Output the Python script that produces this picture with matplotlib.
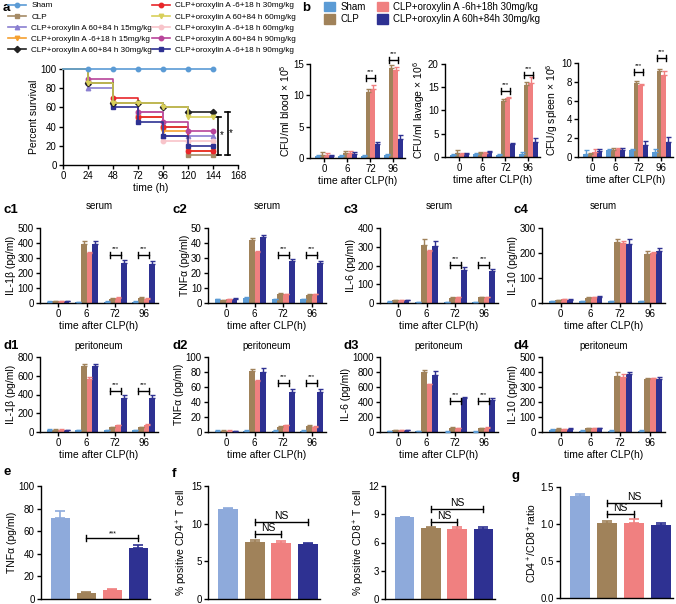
import matplotlib
matplotlib.use('Agg')
import matplotlib.pyplot as plt
from matplotlib.lines import Line2D
from matplotlib.patches import Patch
import numpy as np

plt.rcParams['font.family'] = ['Liberation Sans', 'DejaVu Sans']
plt.rcParams['mathtext.fontset'] = 'custom'
plt.rcParams['mathtext.rm'] = 'Liberation Sans'
plt.rcParams['mathtext.it'] = 'Liberation Sans:italic'
plt.rcParams['mathtext.bf'] = 'Liberation Sans:bold'

# ---------------- data ----------------
surv_times = [0, 24, 48, 72, 96, 120, 144]
surv_labels = ['Sham', 'CLP', 'CLP+oroxylin A 60+84 h 15mg/kg', 'CLP+oroxylin A -6+18 h 15mg/kg',
               'CLP+oroxylin A 60+84 h 30mg/kg', 'CLP+oroxylin A -6+18 h 30mg/kg',
               'CLP+oroxylin A 60+84 h 60mg/kg', 'CLP+oroxylin A -6+18 h 60mg/kg',
               'CLP+oroxylin A 60+84 h 90mg/kg', 'CLP+oroxylin A -6+18 h 90mg/kg']
surv_sham = [100, 100, 100, 100, 100, 100, 100]
surv_clp = [100, 85, 65, 50, 40, 10, 10]
surv_post15 = [100, 80, 65, 55, 30, 30, 30]
surv_pre15 = [100, 85, 65, 50, 35, 15, 15]
surv_post30 = [100, 85, 65, 65, 60, 55, 55]
surv_pre30 = [100, 85, 70, 50, 40, 15, 15]
surv_post60 = [100, 85, 65, 65, 60, 50, 50]
surv_pre60 = [100, 85, 65, 55, 25, 25, 25]
surv_post90 = [100, 90, 65, 55, 45, 35, 35]
surv_pre90 = [100, 85, 60, 45, 30, 20, 20]
surv_series = [surv_sham, surv_clp, surv_post15, surv_pre15, surv_post30,
               surv_pre30, surv_post60, surv_pre60, surv_post90, surv_pre90]
surv_colors = ['#5B9BD5', '#A68B66', '#8A7FD1', '#F5A030', '#222222',
               '#E8262A', '#D8CF5A', '#F8C4CA', '#B8449A', '#2E3192']
surv_markers = ['o', 's', '^', 'v', 'D', 'o', 'v', 'o', 'o', 's']

groups = ['0', '6', '72', '96']
bar_labels = ['Sham', 'CLP', 'CLP+oroxylin A -6h+18h 30mg/kg', 'CLP+oroxylin A 60h+84h 30mg/kg']
bar_colors = ['#5B9BD5', '#A0825A', '#F08080', '#2E3192']

# b panels: [sham, clp, pre, post] per time group
b1_vals = [[0.3, 0.3, 0.3, 0.4], [0.5, 0.8, 10.5, 14.3], [0.5, 0.8, 11.0, 14.0], [0.3, 0.6, 2.3, 3.0]]
b1_errs = [[0.2, 0.2, 0.2, 0.3], [0.4, 0.3, 0.5, 0.5], [0.3, 0.3, 0.6, 0.5], [0.2, 0.3, 0.3, 0.6]]
b2_vals = [[0.5, 0.6, 0.5, 0.7], [0.8, 0.8, 12.0, 15.5], [0.7, 0.8, 12.7, 16.0], [0.6, 1.0, 2.8, 3.3]]
b2_errs = [[0.2, 0.2, 0.2, 0.3], [0.8, 0.3, 0.5, 0.7], [0.2, 0.2, 0.3, 1.3], [0.2, 0.3, 0.3, 0.8]]
b3_vals = [[0.3, 0.7, 0.7, 0.5], [0.3, 0.7, 7.9, 9.1], [0.5, 0.8, 7.7, 8.7], [0.6, 0.7, 1.3, 1.6]]
b3_errs = [[0.4, 0.1, 0.1, 0.3], [0.1, 0.3, 0.2, 0.3], [0.3, 0.2, 0.1, 0.5], [0.3, 0.3, 0.4, 0.5]]

c1_vals = [[10, 5, 10, 10], [12, 390, 30, 35], [12, 330, 35, 30], [12, 390, 265, 260]]
c1_errs = [[2, 2, 2, 2], [3, 25, 5, 6], [2, 8, 5, 5], [2, 25, 25, 20]]
c2_vals = [[2.5, 3.5, 2.5, 2.5], [2, 42, 6, 5.5], [2.5, 34, 6, 6], [3, 44, 28, 27]]
c2_errs = [[0.3, 0.3, 0.3, 0.3], [0.3, 1.5, 0.4, 0.5], [0.2, 0.8, 0.3, 0.3], [0.3, 1.3, 1.3, 0.8]]
c3_vals = [[8, 5, 5, 5], [14, 310, 28, 30], [15, 275, 30, 30], [14, 305, 175, 170]]
c3_errs = [[1, 1, 1, 1], [2, 30, 2, 2], [2, 10, 3, 2], [2, 28, 15, 10]]
c4_vals = [[8, 8, 8, 8], [12, 22, 245, 197], [15, 25, 240, 198], [14, 25, 237, 208]]
c4_errs = [[1, 1, 1, 1], [1, 2, 12, 10], [1, 1, 8, 6], [1, 2, 18, 12]]

d1_vals = [[25, 20, 20, 20], [25, 700, 50, 50], [25, 570, 70, 75], [20, 700, 365, 365]]
d1_errs = [[3, 3, 3, 3], [3, 30, 5, 5], [3, 15, 8, 8], [3, 30, 30, 25]]
d2_vals = [[2, 2, 2, 2], [2, 81, 7, 8], [2, 68, 9, 7], [1.5, 80, 54, 53]]
d2_errs = [[0.3, 0.3, 0.3, 0.3], [0.3, 3, 1, 2], [0.2, 2, 1, 0.5], [0.2, 5, 4, 4]]
d3_vals = [[15, 10, 5, 5], [25, 800, 60, 50], [25, 640, 55, 60], [25, 760, 455, 425]]
d3_errs = [[2, 2, 2, 2], [3, 25, 5, 5], [2, 5, 5, 5], [3, 50, 15, 30]]
d4_vals = [[15, 10, 10, 10], [22, 25, 375, 355], [20, 25, 370, 358], [22, 27, 385, 355]]
d4_errs = [[2, 2, 2, 2], [2, 2, 25, 5], [2, 2, 15, 5], [2, 2, 15, 10]]

efg_colors = ['#8EAADB', '#A0825A', '#F08080', '#2E3192']
e_vals = [72, 5.5, 8, 45]
e_errs = [5.5, 0.5, 0.5, 3]
f1_vals = [12, 7.6, 7.45, 7.3]
f1_errs = [0.1, 0.2, 0.3, 0.1]
f2_vals = [8.7, 7.5, 7.4, 7.45]
f2_errs = [0.05, 0.1, 0.25, 0.15]
g_vals = [1.38, 1.01, 1.01, 0.98]
g_errs = [0.02, 0.03, 0.06, 0.04]

# ---------------- figure ----------------
W, H = 676, 604
fig = plt.figure(figsize=(W / 100, H / 100), dpi=100)

TICK = 7
LAB = 7.5


def ax_px(x0, y0, x1, y1):
    return fig.add_axes([x0 / W, 1 - y1 / H, (x1 - x0) / W, (y1 - y0) / H])


def style(ax):
    for s in ['top', 'right']:
        ax.spines[s].set_visible(False)
    for s in ['left', 'bottom']:
        ax.spines[s].set_linewidth(1.0)
    ax.tick_params(labelsize=TICK, length=3, width=1.0, pad=1.5)


def plabel(x, y, t):
    fig.text(x / W, 1 - y / H, t, fontsize=9.5, fontweight='bold', ha='left', va='center')


# ---- panel a ----
axa = ax_px(63, 69, 238, 165)
style(axa)
handles = []
order = [1, 2, 3, 5, 7, 8, 9, 4, 6, 0]
for i in order:
    axa.plot(surv_times, surv_series[i], drawstyle='steps-post', color=surv_colors[i],
             lw=1.2, marker=surv_markers[i], ms=3.2, markevery=list(range(1, 7)),
             clip_on=False, zorder=3)
for i in range(10):
    handles.append(Line2D([0], [0], color=surv_colors[i], lw=1.2, marker=surv_markers[i], ms=3.2))
axa.set_xlim(0, 168)
axa.set_ylim(0, 100)
axa.set_xticks(range(0, 169, 24))
axa.set_yticks(range(0, 101, 20))
axa.set_xlabel('time (h)', fontsize=LAB, labelpad=1)
axa.set_ylabel('Percent survival', fontsize=LAB, labelpad=1)
for (xt, y0, y1, xs) in [(149, 10, 50, 152.5), (158, 10, 55, 161.5)]:
    axa.plot([xt, xt], [y0, y1], color='k', lw=1.2, clip_on=False)
    axa.plot([xt - 2.5, xt + 2.5], [y0, y0], color='k', lw=1.2, clip_on=False)
    axa.plot([xt - 2.5, xt + 2.5], [y1, y1], color='k', lw=1.2, clip_on=False)
    axa.text(xs, (y0 + y1) / 2 + 1, '*', fontsize=7, ha='center', va='center')

leg_kw = dict(loc='upper left', frameon=False, fontsize=5.9, handlelength=2.3, handletextpad=0.6,
              labelspacing=0.42, borderaxespad=0, borderpad=0.2)
fig.legend([handles[k] for k in [0, 1, 2, 3, 4]], [surv_labels[k] for k in [0, 1, 2, 3, 4]],
           bbox_to_anchor=(6 / W, 1 - 0 / H), **leg_kw)
fig.legend([handles[k] for k in [5, 6, 7, 8, 9]], [surv_labels[k] for k in [5, 6, 7, 8, 9]],
           bbox_to_anchor=(150 / W, 1 - 0 / H), **leg_kw)
plabel(3, 8, 'a')

# ---- legend b ----
patches = [Patch(color=c) for c in bar_colors]
fig.legend(patches[:2], bar_labels[:2], loc='upper left', bbox_to_anchor=(322 / W, 1 - 0 / H),
           frameon=False, fontsize=7, handlelength=1.1, handleheight=1.1, handletextpad=0.6,
           labelspacing=0.25, borderaxespad=0, borderpad=0.2)
fig.legend(patches[2:], bar_labels[2:], loc='upper left', bbox_to_anchor=(375 / W, 1 - 0 / H),
           frameon=False, fontsize=7, handlelength=1.1, handleheight=1.1, handletextpad=0.6,
           labelspacing=0.25, borderaxespad=0, borderpad=0.2)
plabel(302, 8, 'b')


def group_panel(box, vals, errs, ymax, yticks, ylabel, sig=None, title=None, tpad=6):
    ax = ax_px(*box)
    style(ax)
    x = np.arange(len(groups))
    w = 0.2
    for i in range(4):
        xs = x + (i - 1.5) * w
        ax.bar(xs, vals[i], width=w, color=bar_colors[i], zorder=2)
        ax.errorbar(xs, vals[i], yerr=[np.zeros(len(groups)), errs[i]], fmt='none',
                    ecolor=bar_colors[i], elinewidth=1.0, capsize=1.8, capthick=1.0, zorder=3,
                    clip_on=False)
    ax.set_xlim(-0.63, 3.5)
    ax.set_ylim(0, ymax)
    ax.set_xticks(x)
    ax.set_xticklabels(groups)
    ax.set_yticks(yticks)
    ax.set_xlabel('time after CLP(h)', fontsize=LAB, labelpad=1)
    ax.set_ylabel(ylabel, fontsize=LAB, labelpad=1)
    if title:
        ax.set_title(title, fontsize=7, pad=tpad)
    if sig:
        hpx = box[3] - box[1]
        d = 3.0 / hpx * ymax
        for gi, yb in sig:
            x0, x1 = gi - 0.19, gi + 0.19
            ax.plot([x0, x1], [yb, yb], color='k', lw=1.0, clip_on=False, zorder=4)
            ax.plot([x0, x0], [yb - d, yb + d], color='k', lw=1.0, clip_on=False, zorder=4)
            ax.plot([x1, x1], [yb - d, yb + d], color='k', lw=1.0, clip_on=False, zorder=4)
            ax.text(gi, yb + 1.3 * d, '***', fontsize=4.5, ha='center', va='bottom', clip_on=False)
    return ax


# ---- panel b ----
group_panel((310, 64, 405, 158), b1_vals, b1_errs, 15, [0, 5, 10, 15], 'CFU/ml blood × 10$^5$',
            sig=[(2, 12.8), (3, 15.6)])
group_panel((445, 64, 540, 157), b2_vals, b2_errs, 20, [0, 5, 10, 15, 20], 'CFU/ml lavage × 10$^6$',
            sig=[(2, 14.1), (3, 17.6)])
group_panel((578, 63, 673, 157), b3_vals, b3_errs, 10, [0, 2, 4, 6, 8, 10], 'CFU/g spleen × 10$^6$',
            sig=[(2, 9.0), (3, 10.5)])

# ---- panel c ----
group_panel((40, 228, 158, 303), c1_vals, c1_errs, 500, range(0, 501, 100), 'IL-1β (pg/ml)',
            sig=[(2, 320), (3, 320)], title='serum', tpad=14)
group_panel((208, 228, 326, 303), c2_vals, c2_errs, 50, range(0, 51, 10), 'TNFα (pg/ml)',
            sig=[(2, 32), (3, 32)], title='serum', tpad=14)
group_panel((380, 228, 498, 303), c3_vals, c3_errs, 400, range(0, 401, 100), 'IL-6 (pg/ml)',
            sig=[(2, 203), (3, 203)], title='serum', tpad=14)
group_panel((542, 228, 665, 303), c4_vals, c4_errs, 300, range(0, 301, 100), 'IL-10 (pg/ml)',
            title='serum', tpad=14)
plabel(4, 210, 'c1')
plabel(172, 210, 'c2')
plabel(343, 210, 'c3')
plabel(513, 210, 'c4')

# ---- panel d ----
group_panel((40, 357, 158, 432), d1_vals, d1_errs, 800, range(0, 801, 200), 'IL-1β (pg/ml)',
            sig=[(2, 440), (3, 440)], title='peritoneum', tpad=6)
group_panel((208, 357, 326, 432), d2_vals, d2_errs, 100, range(0, 101, 20), 'TNFα (pg/ml)',
            sig=[(2, 65), (3, 65)], title='peritoneum', tpad=6)
group_panel((380, 357, 498, 432), d3_vals, d3_errs, 1000, range(0, 1001, 200), 'IL-6 (pg/ml)',
            sig=[(2, 410), (3, 410)], title='peritoneum', tpad=6)
group_panel((542, 357, 665, 432), d4_vals, d4_errs, 500, range(0, 501, 100), 'IL-10 (pg/ml)',
            title='peritoneum', tpad=6)
plabel(4, 346, 'd1')
plabel(172, 346, 'd2')
plabel(343, 346, 'd3')
plabel(513, 346, 'd4')


def single_panel(box, vals, errs, ymax, yticks, ylabel, brackets, ytl=None):
    ax = ax_px(*box)
    style(ax)
    x = np.arange(4)
    for i in range(4):
        ax.bar(x[i], vals[i], width=0.74, color=efg_colors[i], zorder=2)
        ax.errorbar(x[i], vals[i], yerr=[[0], [errs[i]]], fmt='none', ecolor=efg_colors[i],
                    elinewidth=1.2, capsize=3.5, capthick=1.2, zorder=3)
    ax.set_xlim(-0.75, 3.45)
    ax.set_ylim(0, ymax)
    ax.set_xticks([])
    ax.set_yticks(yticks)
    if ytl is not None:
        ax.set_yticklabels(ytl)
    ax.set_ylabel(ylabel, fontsize=LAB, labelpad=1)
    hpx = box[3] - box[1]
    d = 3.0 / hpx * ymax
    for (i0, i1, yb, txt, fs) in brackets:
        ax.plot([i0, i1], [yb, yb], color='k', lw=1.0, zorder=4)
        ax.plot([i0, i0], [yb - d, yb + d], color='k', lw=1.0, zorder=4)
        ax.plot([i1, i1], [yb - d, yb + d], color='k', lw=1.0, zorder=4)
        ax.text((i0 + i1) / 2, yb + 0.3 * d, txt, fontsize=fs, ha='center', va='bottom')
    return ax


single_panel((41, 486, 150, 599), e_vals, e_errs, 100, range(0, 101, 20), 'TNFα (pg/ml)',
             [(1, 3, 54, '***', 5)])
single_panel((208, 486, 320, 599), f1_vals, f1_errs, 15, [0, 5, 10, 15], '% positive CD4$^+$ T cell',
             [(1, 2, 8.6, 'NS', 7.5), (1, 3, 10.2, 'NS', 7.5)])
single_panel((385, 486, 495, 599), f2_vals, f2_errs, 12, [0, 3, 6, 9, 12], '% positive CD8$^+$ T cell',
             [(1, 2, 8.2, 'NS', 7.5), (1, 3, 9.6, 'NS', 7.5)])
single_panel((560, 487, 673, 598), g_vals, g_errs, 1.5, [0, 0.5, 1.0, 1.5], 'CD4$^+$/CD8$^+$ratio',
             [(1, 2, 1.14, 'NS', 7.5), (1, 3, 1.29, 'NS', 7.5)], ytl=['0.0', '0.5', '1.0', '1.5'])
plabel(3, 472, 'e')
plabel(172, 474, 'f')
plabel(512, 476, 'g')

fig.savefig('out.png', dpi=100)
